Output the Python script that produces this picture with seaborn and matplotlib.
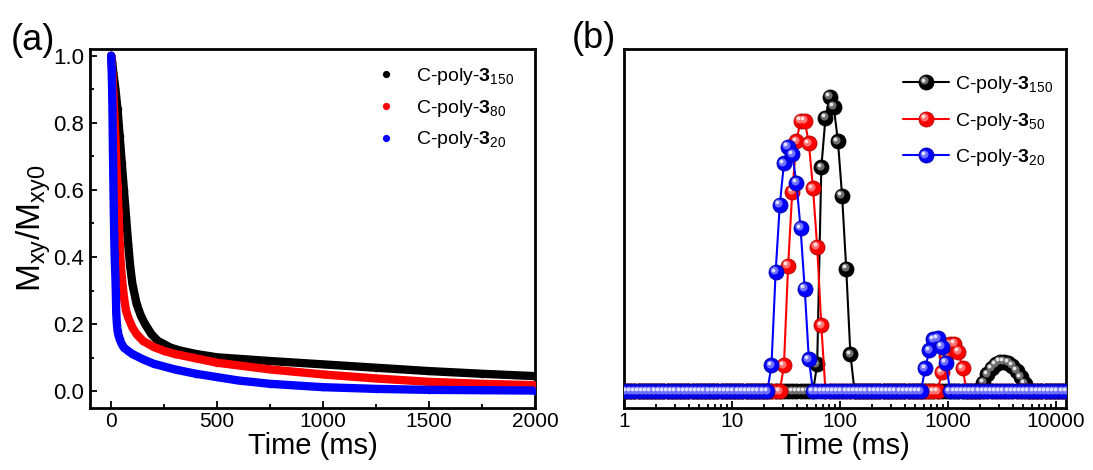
import numpy as np
import pandas as pd
import matplotlib
matplotlib.use("Agg")
import matplotlib.pyplot as plt
import seaborn as sns
from matplotlib.lines import Line2D
from matplotlib.transforms import offset_copy, Affine2D
from matplotlib.legend_handler import HandlerLine2D, HandlerTuple
from matplotlib.ticker import MultipleLocator, LogLocator, NullFormatter, FixedLocator, FixedFormatter

# ---------------- data: panel (a) – transverse magnetisation decay ----------------
labels_a = ["C-poly-$\\mathbf{3}_{150}$", "C-poly-$\\mathbf{3}_{80}$", "C-poly-$\\mathbf{3}_{20}$"]

time_150 = [0, 5, 10, 20, 30, 40, 50, 60, 70, 80, 90, 100, 120, 140, 160, 190, 220, 250,
            280, 320, 400, 500, 750, 1000, 1250, 1500, 1750, 2000]
mxy_150 = [1.0, 0.98, 0.95, 0.90, 0.84, 0.76, 0.68, 0.60, 0.52, 0.44, 0.37, 0.32, 0.26, 0.225,
           0.20, 0.17, 0.15, 0.14, 0.13, 0.122, 0.111, 0.101, 0.090, 0.080, 0.070, 0.060, 0.052, 0.045]

time_80 = [0, 5, 10, 15, 20, 25, 30, 35, 40, 45, 50, 60, 70, 80, 100, 120, 150, 200, 250,
           300, 400, 500, 750, 1000, 1250, 1500, 1750, 2000]
mxy_80 = [1.0, 0.95, 0.89, 0.82, 0.75, 0.67, 0.61, 0.53, 0.44, 0.38, 0.34, 0.28, 0.24, 0.22,
          0.19, 0.17, 0.15, 0.132, 0.12, 0.111, 0.098, 0.085, 0.065, 0.050, 0.038, 0.028, 0.022, 0.018]

time_20 = [0, 2, 4, 6, 8, 10, 12, 14, 16, 18, 20, 22, 24, 27, 30, 35, 40, 50, 60, 80, 100,
           150, 200, 300, 400, 500, 600, 750, 1000, 1250, 1500, 1750, 2000]
mxy_20 = [1.0, 0.96, 0.91, 0.84, 0.73, 0.64, 0.55, 0.47, 0.41, 0.37, 0.34, 0.29, 0.23, 0.20,
          0.18, 0.165, 0.155, 0.14, 0.13, 0.12, 0.111, 0.095, 0.082, 0.065, 0.052, 0.042, 0.032,
          0.022, 0.012, 0.007, 0.004, 0.003, 0.002]

# ---------------- data: panel (b) – T2 distributions on a log time grid ----------------
labels_b = ["C-poly-$\\mathbf{3}_{150}$", "C-poly-$\\mathbf{3}_{50}$", "C-poly-$\\mathbf{3}_{20}$"]
t2_grid = np.logspace(-0.019, 4.139, 109)   # 109 relaxation-time bins (ms)

amp_150 = ([0] * 47
           + [0.080, 0.667, 0.815, 0.877, 0.847, 0.745, 0.582, 0.364, 0.110]
           + [0] * 31
           + [0.025, 0.050, 0.068, 0.080, 0.087, 0.088, 0.084, 0.075, 0.060, 0.042, 0.022]
           + [0] * 11)
amp_50 = ([0] * 39
          + [0.077, 0.374, 0.594, 0.745, 0.806, 0.806, 0.739, 0.605, 0.430, 0.196]
          + [0] * 28
          + [0.056, 0.105, 0.140, 0.142, 0.117, 0.068]
          + [0] * 26)
amp_20 = ([0] * 36
          + [0.077, 0.355, 0.555, 0.679, 0.728, 0.706, 0.621, 0.486, 0.305, 0.095]
          + [0] * 27
          + [0.068, 0.122, 0.155, 0.158, 0.132, 0.085]
          + [0] * 30)

x_ticks_a = [0, 500, 1000, 1500, 2000]
y_ticks_a = [0.0, 0.2, 0.4, 0.6, 0.8, 1.0]
x_ticks_b = [1, 10, 100, 1000, 10000]
x_ticklabels_b = ["1", "10", "100", "1000", "10000"]

colors = ["#000000", "#FF0000", "#0000FF"]
edge_colors = ["#000000", "#B00000", "#0000A0"]
mid_colors = ["#6E6E6E", "#FF7070", "#7070FF"]
spot_colors = ["#E6E6E6", "#FFE0E0", "#E0E0FF"]

# ---------------- style ----------------
sns.set_theme(style="ticks")
plt.rcParams["font.family"] = ["Liberation Sans", "DejaVu Sans"]
plt.rcParams["mathtext.fontset"] = "custom"
plt.rcParams["mathtext.rm"] = "Liberation Sans"
plt.rcParams["mathtext.it"] = "Liberation Sans:italic"
plt.rcParams["mathtext.bf"] = "Liberation Sans:bold"
plt.rcParams["text.color"] = "black"
plt.rcParams["axes.labelcolor"] = "black"
plt.rcParams["legend.labelcolor"] = "black"

W, H = 1093, 470
fig = plt.figure(figsize=(W / 100, H / 100), dpi=100)
ax_a = fig.add_axes([90 / W, 1 - 408 / H, 445 / W, 359 / H])
ax_b = fig.add_axes([624 / W, 1 - 408 / H, 442 / W, 359 / H])

# ---------------- panel (a) ----------------
series_a = [(time_150, mxy_150), (time_80, mxy_80), (time_20, mxy_20)]
for i, (t, m) in enumerate(series_a):
    df = pd.DataFrame({"t": t, "m": m})
    sns.lineplot(data=df, x="t", y="m", ax=ax_a, color=colors[i], linewidth=6.0,
                 marker="o", markersize=5.4, markeredgewidth=0, estimator=None, sort=False,
                 legend=False, zorder=2 + i, solid_capstyle="round", solid_joinstyle="round")

ax_a.set_xlim(-100, 2000)
ax_a.set_ylim(-0.05, 1.02)
ax_a.xaxis.set_major_locator(FixedLocator(x_ticks_a))
ax_a.xaxis.set_minor_locator(MultipleLocator(250))
ax_a.yaxis.set_major_locator(FixedLocator(y_ticks_a))
ax_a.yaxis.set_major_formatter(FixedFormatter([f"{v:.1f}" for v in y_ticks_a]))
ax_a.yaxis.set_minor_locator(MultipleLocator(0.1))
ax_a.set_xlabel("Time (ms)", fontsize=21, labelpad=0.5, color="black")
ax_a.set_ylabel("M$_{\\mathrm{xy}}$/M$_{\\mathrm{xy0}}$", fontsize=24, labelpad=0, color="black")

handles_a = [Line2D([], [], ls="none", marker="o", ms=5.2, color=c, mew=0) for c in colors]
ax_a.legend(handles_a, labels_a, loc="upper left", bbox_to_anchor=(367 / W, 1 - 66 / H),
            bbox_transform=fig.transFigure, frameon=False, fontsize=14, borderpad=0,
            borderaxespad=0, handlelength=2.0, handletextpad=0.5, labelspacing=0.55)

# ---------------- panel (b) ----------------
ax_b.set_xscale("log")
amps = [amp_150, amp_50, amp_20]
hl_mid = offset_copy(ax_b.transData, fig=fig, x=-1.7, y=1.7, units="dots")
hl_spot = offset_copy(ax_b.transData, fig=fig, x=-2.6, y=2.6, units="dots")
for i, a in enumerate(amps):
    df = pd.DataFrame({"t": t2_grid, "a": a})
    z = 2 + i
    sns.lineplot(data=df, x="t", y="a", ax=ax_b, color=colors[i], linewidth=1.5,
                 marker="o", markersize=10.8, markeredgecolor=edge_colors[i],
                 markeredgewidth=0.6, estimator=None, sort=False, legend=False, zorder=z)
    ax_b.plot(t2_grid, a, ls="none", marker="o", ms=5.8, mfc=mid_colors[i], mec="none",
              transform=hl_mid, zorder=z + 0.1)
    ax_b.plot(t2_grid, a, ls="none", marker="o", ms=2.7, mfc=spot_colors[i], mec="none",
              transform=hl_spot, zorder=z + 0.2)

ax_b.set_xlim(1, 12500)
ax_b.set_ylim(-0.05, 1.02)
ax_b.xaxis.set_major_locator(FixedLocator(x_ticks_b))
ax_b.xaxis.set_major_formatter(FixedFormatter(x_ticklabels_b))
ax_b.xaxis.set_minor_locator(LogLocator(base=10, subs=np.arange(2, 10), numticks=20))
ax_b.xaxis.set_minor_formatter(NullFormatter())
ax_b.set_yticks([])
ax_b.set_xlabel("Time (ms)", fontsize=21, labelpad=0.5, color="black")
ax_b.set_ylabel("")


class ShiftedHandler(HandlerLine2D):
    def __init__(self, dx, dy, **kw):
        super().__init__(**kw)
        self.dx, self.dy = dx, dy

    def create_artists(self, legend, orig_handle, xdescent, ydescent, width, height,
                       fontsize, trans):
        return super().create_artists(legend, orig_handle, xdescent, ydescent, width,
                                      height, fontsize,
                                      trans + Affine2D().translate(self.dx, self.dy))


handles_b, hmap = [], {}
for i in range(3):
    base = Line2D([], [], color=colors[i], lw=1.5, marker="o", ms=10.8,
                  mec=edge_colors[i], mew=0.6)
    mid = Line2D([], [], ls="none", marker="o", ms=5.8, mfc=mid_colors[i], mec="none")
    spot = Line2D([], [], ls="none", marker="o", ms=2.7, mfc=spot_colors[i], mec="none")
    hmap[mid] = ShiftedHandler(-1.7, 1.7)
    hmap[spot] = ShiftedHandler(-2.6, 2.6)
    handles_b.append((base, mid, spot))
hmap[tuple] = HandlerTuple(ndivide=1, pad=0)
ax_b.legend(handles_b, labels_b, handler_map=hmap, loc="upper left",
            bbox_to_anchor=(903 / W, 1 - 74 / H), bbox_transform=fig.transFigure,
            frameon=False, fontsize=14, borderpad=0, borderaxespad=0, handlelength=2.35,
            handletextpad=0.3, labelspacing=0.8)

# ---------------- shared axis styling ----------------
for ax in (ax_a, ax_b):
    for s in ax.spines.values():
        s.set_linewidth(2.0)
        s.set_color("black")
        s.set_visible(True)
    ax.tick_params(which="both", direction="in", top=False, right=False, width=1.3,
                   colors="black", labelsize=15, pad=3)
    ax.tick_params(which="major", length=5)
    ax.tick_params(which="minor", length=3)
    ax.grid(False)
ax_a.tick_params(axis="y", labelsize=16, pad=4)

fig.text(11 / W, 1 - 40 / H, "(a)", fontsize=26, va="center", ha="left", color="black")
fig.text(572 / W, 1 - 38 / H, "(b)", fontsize=26, va="center", ha="left", color="black")

fig.savefig("out.png", dpi=100)
